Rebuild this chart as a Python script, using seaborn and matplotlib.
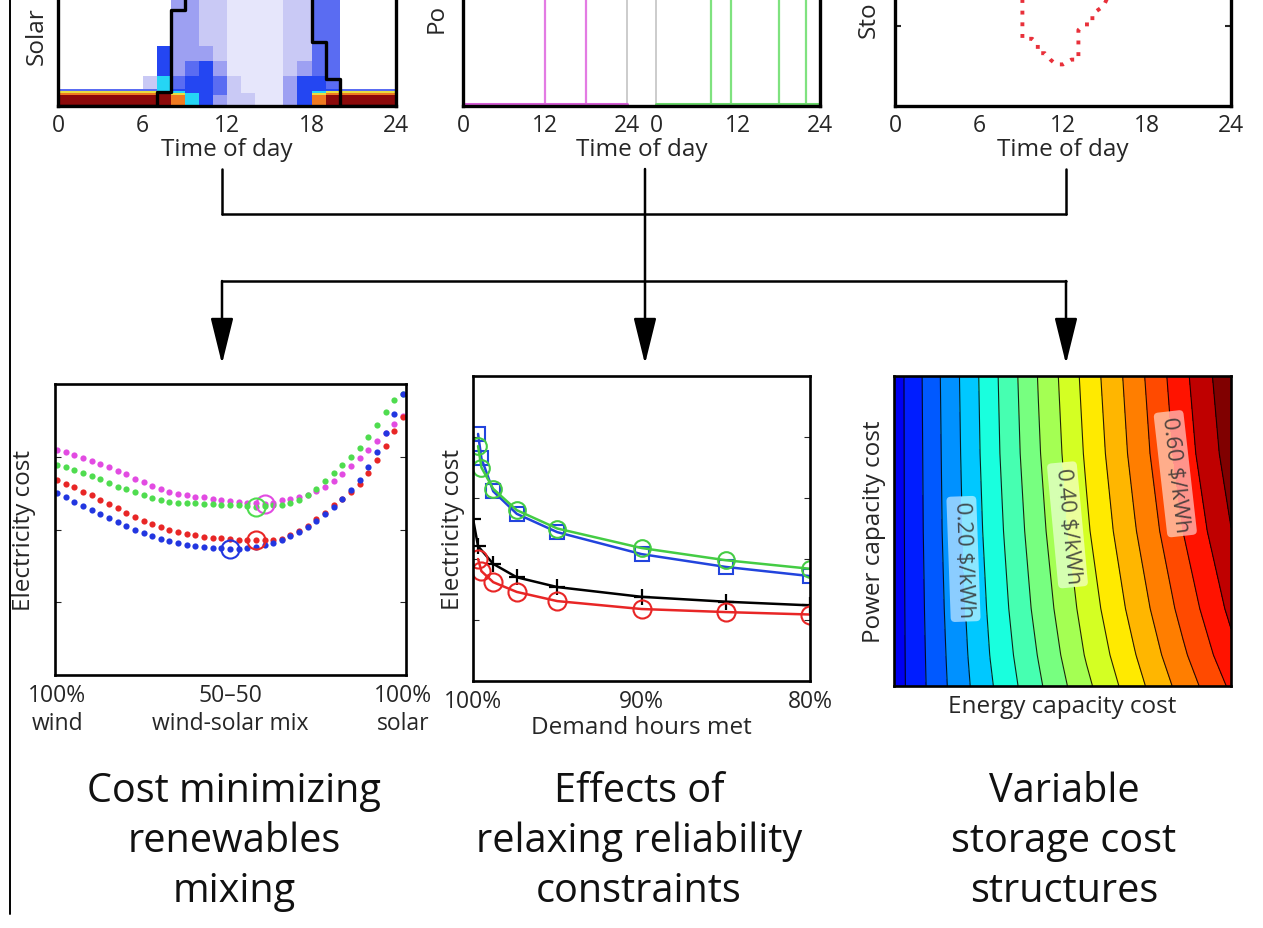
import numpy as np
import matplotlib
matplotlib.use("Agg")
import matplotlib.pyplot as plt
import seaborn as sns
from matplotlib.colors import ListedColormap, BoundaryNorm

sns.set_style("white")
plt.rcParams["font.family"] = ["Open Sans", "DejaVu Sans"]
plt.rcParams["xtick.direction"] = "in"
plt.rcParams["ytick.direction"] = "in"

W, H = 1263, 929
TICK_FS = 16.5
LABEL_FS = 17.5

# ---------------- data ----------------
# top left: distribution of solar output by hour (digit = density level)
solar_bin_edges = [0, 0.07, 0.08, 0.095, 0.105, 0.19, 0.28, 0.375, 0.47, 0.56, 1.0]
solar_density_rows = [  # top bin first, hours 0..23
    "000000003322111122440000",
    "000000003322111122440000",
    "000000003322111122440000",
    "000000053332111122440000",
    "000000053453111123440000",
    "000000264554211135540000",
    "444444465554211135554444",
    "777777776554211135677777",
    "888888897654221135788888",
    "999999998653221135899999",
]
density_colors = ["#ffffff", "#e6e6fb", "#c9c9f5", "#9da0f2", "#5a6cf2",
                  "#2446f2", "#25d5f5", "#e8e040", "#f07a20", "#8c0a0a"]
hours = list(range(25))
solar_step = [0, 0, 0, 0, 0, 0, 0, 0.085, 0.6, 0.9, 0.9, 0.9, 0.9, 0.9,
              0.9, 0.9, 0.9, 0.9, 0.4, 0.17, 0, 0, 0, 0, 0]

# top middle: power dispatch, two days side by side
day_ticks = [0, 12, 24]
second_day_offset = 28.4
day1_spikes = [12, 18]
day2_spikes = [8, 11, 18, 22]

# top right: storage level (red dotted)
storage_hours = [9.1, 9.1, 9.8, 10.2, 10.2, 10.7, 11.1, 11.5, 12.0, 12.6,
                 13.1, 13.1, 13.5, 14.1, 14.1, 14.9, 15.4]
storage_level = [0.80, 0.42, 0.42, 0.39, 0.33, 0.33, 0.29, 0.26, 0.26, 0.29,
                 0.29, 0.475, 0.51, 0.51, 0.575, 0.625, 0.72]

# bottom left: electricity cost vs wind-solar mix (0 = all wind, 1 = all solar)
solar_share = np.arange(0, 1.0001, 0.025)
cost_magenta = [3.09, 3.06, 3.02, 2.98, 2.94, 2.90, 2.86, 2.81, 2.76, 2.70,
                2.65, 2.60, 2.56, 2.52, 2.49, 2.47, 2.45, 2.44, 2.42, 2.40,
                2.39, 2.38, 2.37, 2.36, 2.35, 2.37, 2.40, 2.42, 2.44, 2.48,
                2.53, 2.59, 2.67, 2.76, 2.87, 2.98, 3.09, 3.21, 3.33, 3.45, 3.56]
cost_green = [2.89, 2.86, 2.82, 2.78, 2.74, 2.69, 2.64, 2.59, 2.55, 2.51,
              2.47, 2.43, 2.40, 2.38, 2.37, 2.36, 2.36, 2.35, 2.35, 2.34,
              2.34, 2.33, 2.32, 2.31, 2.32, 2.33, 2.34, 2.36, 2.40, 2.47,
              2.56, 2.66, 2.77, 2.89, 3.00, 3.12, 3.27, 3.44, 3.61, 3.78, 3.86]
cost_red = [2.68, 2.63, 2.58, 2.52, 2.47, 2.41, 2.35, 2.29, 2.23, 2.17,
            2.12, 2.07, 2.03, 2.00, 1.97, 1.94, 1.92, 1.90, 1.89, 1.88,
            1.87, 1.86, 1.855, 1.85, 1.852, 1.855, 1.87, 1.92, 1.98, 2.05,
            2.14, 2.23, 2.33, 2.42, 2.52, 2.63, 2.78, 2.96, 3.15, 3.35, 3.55]
cost_blue = [2.50, 2.44, 2.38, 2.32, 2.27, 2.21, 2.16, 2.10, 2.05, 2.00,
             1.95, 1.91, 1.87, 1.84, 1.81, 1.79, 1.77, 1.76, 1.75, 1.74,
             1.73, 1.735, 1.745, 1.76, 1.79, 1.82, 1.86, 1.91, 1.97, 2.04,
             2.12, 2.21, 2.31, 2.42, 2.54, 2.68, 2.86, 3.06, 3.33, 3.59, 3.86]
mix_colors = ["#e24be2", "#4fdc4f", "#e82626", "#2236e0"]

# bottom middle: electricity cost vs share of demand hours met
demand_met = [99.7, 99.5, 98.8, 97.4, 95, 90, 85, 80]
cost_squares = [4.05, 3.65, 3.11, 2.74, 2.44, 2.08, 1.87, 1.72]
cost_greens = [3.85, 3.50, 3.15, 2.80, 2.50, 2.18, 1.98, 1.84]
cost_circles = [2.00, 1.80, 1.62, 1.46, 1.31, 1.18, 1.13, 1.09]
demand_met_plus = [100, 99.7, 98.8, 97.4, 95, 90, 85, 80]
cost_plus = [2.66, 2.21, 1.92, 1.70, 1.54, 1.38, 1.30, 1.24]

# bottom right: storage cost surface ($/kWh), rows = power capacity cost
energy_cost = [0, 1, 2, 3, 4, 5, 6, 7]
power_cost = [0, 0.1, 0.25, 0.5, 0.75, 1.0]
storage_cost = [
    [0.058, 0.151, 0.235, 0.313, 0.391, 0.464, 0.536, 0.607],
    [0.058, 0.153, 0.241, 0.322, 0.404, 0.478, 0.553, 0.627],
    [0.058, 0.156, 0.247, 0.333, 0.417, 0.495, 0.573, 0.650],
    [0.058, 0.160, 0.255, 0.346, 0.434, 0.517, 0.600, 0.679],
    [0.058, 0.162, 0.261, 0.356, 0.446, 0.533, 0.618, 0.700],
    [0.058, 0.164, 0.264, 0.362, 0.454, 0.542, 0.629, 0.712],
]
cost_levels = [0.04, 0.08, 0.12, 0.16, 0.20, 0.24, 0.28, 0.32, 0.36,
               0.40, 0.44, 0.48, 0.52, 0.56, 0.60, 0.64, 0.68, 0.72]
labelled_levels = [0.20, 0.40, 0.60]

captions = [
    ["Cost minimizing", "renewables", "mixing"],
    ["Effects of", "relaxing reliability", "constraints"],
    ["Variable", "storage cost", "structures"],
]


def px_box(left, top, right, bottom):
    return [left / W, 1 - bottom / H, (right - left) / W, (bottom - top) / H]


def frame(ax, lw):
    for s in ax.spines.values():
        s.set_visible(True)
        s.set_color("black")
        s.set_linewidth(lw)


fig = plt.figure(figsize=(W / 100, H / 100), dpi=100)

# ---------- top left ----------
axA = fig.add_axes(px_box(58, -53, 396, 107))
levels_grid = np.array([[int(c) for c in row] for row in solar_density_rows[::-1]])
cmapA = ListedColormap(density_colors)
axA.pcolormesh(hours, solar_bin_edges, levels_grid, cmap=cmapA,
               norm=BoundaryNorm(np.arange(-0.5, 10), 10), shading="flat")
sns.lineplot(x=hours, y=solar_step, drawstyle="steps-post", color="black",
             lw=2.4, ax=axA, estimator=None)
axA.set_xlim(0, 24)
axA.set_ylim(0, 1)
axA.set_xticks([0, 6, 12, 18, 24])
axA.set_yticks([])
axA.tick_params(labelsize=TICK_FS, length=0, pad=5)
axA.set_xlabel("Time of day", fontsize=LABEL_FS, labelpad=0)
frame(axA, 2.4)

# ---------- top middle ----------
axB = fig.add_axes(px_box(463, -53, 820, 107))
axB.vlines(day1_spikes, 0, 1, color="#e37be3", lw=1.6)
axB.vlines([d + second_day_offset for d in day2_spikes], 0, 1, color="#7fe27f", lw=1.6)
axB.vlines([24, second_day_offset], 0, 1, color="#cccccc", lw=1.4)
sns.lineplot(x=[0, 24], y=[0.01, 0.01], color="#d55ed5", lw=2.2, ax=axB)
sns.lineplot(x=[second_day_offset, second_day_offset + 24], y=[0.01, 0.01],
             color="#6ad86a", lw=2.2, ax=axB)
axB.set_xlim(0, second_day_offset + 24)
axB.set_ylim(0, 1)
axB.set_xticks(day_ticks + [d + second_day_offset for d in day_ticks])
axB.set_xticklabels([str(d) for d in day_ticks] * 2)
axB.set_yticks([])
axB.tick_params(labelsize=TICK_FS, length=0, pad=5)
axB.set_xlabel("Time of day", fontsize=LABEL_FS, labelpad=0)
frame(axB, 2.4)

# ---------- top right ----------
axC = fig.add_axes(px_box(895, -53, 1231, 107))
axC.plot(storage_hours, storage_level, color="#e8303a", lw=2.8,
         linestyle=(0, (1, 2.0)))
axC.set_xlim(0, 24)
axC.set_ylim(0, 1)
axC.set_xticks([0, 6, 12, 18, 24])
axC.set_yticks([0.5])
axC.set_yticklabels([])
axC.tick_params(axis="x", labelsize=TICK_FS, length=4, width=1.5, pad=5)
axC.tick_params(axis="y", left=True, right=True, length=4, width=1.5)
axC.set_xlabel("Time of day", fontsize=LABEL_FS, labelpad=0)
frame(axC, 2.4)

# ---------- bottom left ----------
axD = fig.add_axes(px_box(55, 385, 406, 676))
for col, vals in zip(mix_colors, [cost_magenta, cost_green, cost_red, cost_blue]):
    sns.scatterplot(x=solar_share, y=vals, color=col, s=20, linewidth=0, ax=axD)
    i = int(np.argmin(vals))
    axD.plot(solar_share[i], vals[i], "o", mfc="none", mec=col, ms=13, mew=1.5)
axD.set_xlim(-0.006, 1.009)
axD.set_ylim(0, 4)
axD.set_xticks([0, 0.5, 1])
axD.set_xticklabels(["100%\nwind", "50\u201350\nwind-solar mix", "100%\nsolar"])
axD.set_yticks([1, 2, 3])
axD.set_yticklabels([])
axD.tick_params(axis="x", labelsize=TICK_FS, length=4, pad=6)
axD.tick_params(axis="y", left=True, right=True, length=4)
axD.set_ylabel("Electricity cost", fontsize=LABEL_FS, labelpad=10)
axD.set_xlabel("")
frame(axD, 1.9)

# ---------- bottom middle ----------
axE = fig.add_axes(px_box(473, 377, 810, 682))
sns.lineplot(x=demand_met, y=cost_squares, color="#2244dd", lw=1.8, marker="s",
             ms=10, mfc="none", mec="#2244dd", mew=1.5, ax=axE)
sns.lineplot(x=demand_met, y=cost_greens, color="#44cc44", lw=1.8, marker="o",
             ms=12, mfc="none", mec="#44cc44", mew=1.5, ax=axE)
sns.lineplot(x=demand_met_plus, y=cost_plus, color="black", lw=1.8, marker="+",
             ms=12, mec="black", mew=1.6, ax=axE)
sns.lineplot(x=demand_met, y=cost_circles, color="#e82626", lw=1.8, marker="o",
             ms=13, mfc="none", mec="#e82626", mew=1.5, ax=axE)
axE.set_xlim(100, 80)
axE.set_ylim(0, 5)
axE.set_xticks([100, 95, 90, 85, 80])
axE.set_xticklabels(["100%", "", "90%", "", "80%"])
axE.set_yticks([1, 2, 3, 4])
axE.set_yticklabels([])
axE.tick_params(axis="x", labelsize=TICK_FS, length=4, pad=6)
axE.tick_params(axis="y", left=True, right=True, length=4)
axE.set_xlabel("Demand hours met", fontsize=LABEL_FS, labelpad=1)
axE.set_ylabel("Electricity cost", fontsize=LABEL_FS, labelpad=2)
frame(axE, 1.9)

# ---------- bottom right ----------
axF = fig.add_axes(px_box(894, 377, 1231, 687))
axF.contourf(energy_cost, power_cost, storage_cost, levels=cost_levels,
             cmap="jet", vmin=-0.01, vmax=0.70)
plain_levels = [v for v in cost_levels if v not in labelled_levels]
axF.contour(energy_cost, power_cost, storage_cost, levels=plain_levels,
            colors="black", linewidths=0.8, alpha=0.85)
cl = axF.contour(energy_cost, power_cost, storage_cost, levels=labelled_levels,
                 colors="black", linewidths=0.8, alpha=0.85)
lab_pos = [(1.47, 0.41), (3.61, 0.52), (6.1, 0.69)]
texts = axF.clabel(cl, inline=True, fontsize=16,
                   fmt=lambda v: f"{v:.2f} \\$/kWh", manual=lab_pos,
                   inline_spacing=4, colors="#333333")
for t in texts:
    t.set_bbox(dict(boxstyle="round,pad=0.2", fc="white", ec="none", alpha=0.55))
axF.set_xlim(0, 7)
axF.set_ylim(0, 1)
axF.set_xticks([])
axF.set_yticks([])
axF.set_xlabel("Energy capacity cost", fontsize=LABEL_FS, labelpad=6)
axF.set_ylabel("Power capacity cost", fontsize=LABEL_FS, labelpad=6)
frame(axF, 1.9)

# ---------- y labels of the top row, cut by the crop of the original ----------
fig.text(37 / W, 1 - 65 / H, "Solar", rotation=90, ha="center", va="bottom",
         fontsize=LABEL_FS)
fig.text(437 / W, 1 - 33 / H, "Po", rotation=90, ha="center", va="bottom",
         fontsize=LABEL_FS)
fig.text(869 / W, 1 - 38 / H, "Sto", rotation=90, ha="center", va="bottom",
         fontsize=LABEL_FS)

# ---------- connectors (pixel space overlay) ----------
ov = fig.add_axes([0, 0, 1, 1])
ov.set_xlim(0, W)
ov.set_ylim(H, 0)
ov.axis("off")
ov.patch.set_alpha(0)
lw_c = 1.8
ov.plot([10, 10], [0, 915], color="black", lw=1.4)
for x in (222, 1066):
    ov.plot([x, x], [170, 215], color="black", lw=lw_c)
ov.plot([222, 1066], [215, 215], color="black", lw=lw_c)
ov.plot([222, 1066], [282, 282], color="black", lw=lw_c)
arrow = dict(arrowstyle="-|>,head_length=1.3,head_width=0.32", color="black",
             lw=lw_c, mutation_scale=22, shrinkA=0, shrinkB=0)
ov.annotate("", xy=(645, 365), xytext=(645, 170), arrowprops=arrow)
for x in (222, 1066):
    ov.annotate("", xy=(x, 365), xytext=(x, 282), arrowprops=arrow)

# ---------- captions ----------
for cx, lines in zip((234, 639, 1064), captions):
    for k, line in enumerate(lines):
        ov.text(cx, 802 + 50 * k, line, ha="center", va="baseline",
                fontsize=28.5, color="#111111")

fig.savefig("out.png", dpi=100)
